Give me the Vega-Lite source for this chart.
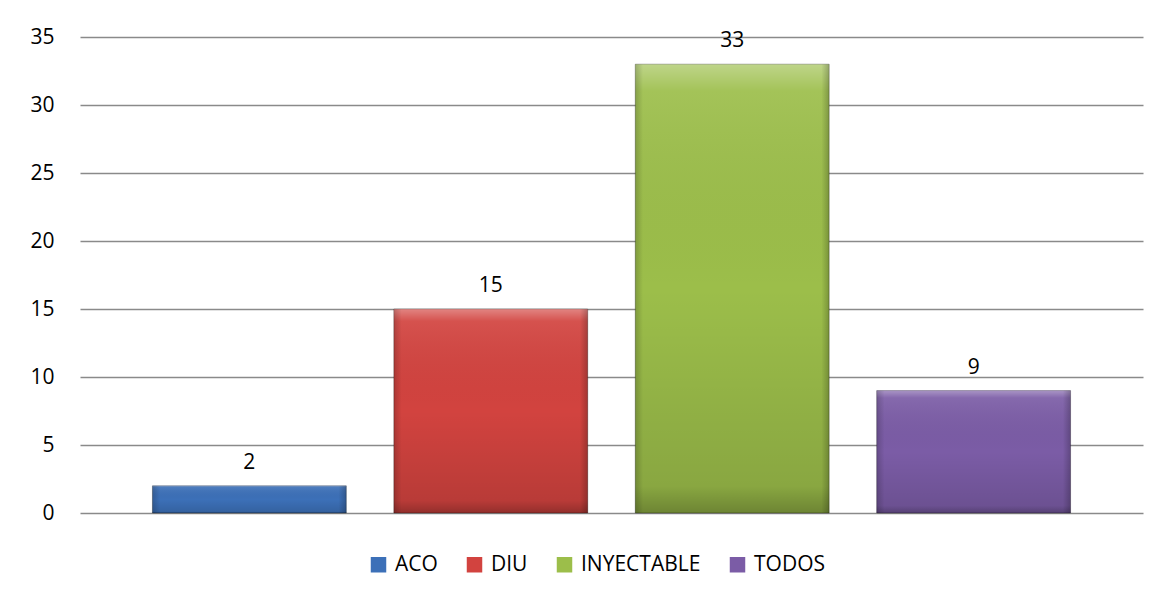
{
  "$schema": "https://vega.github.io/schema/vega-lite/v6.json",
  "autosize": {"type": "none"},
  "padding": {"left": 80, "top": 37, "right": 18, "bottom": 87},
  "width": 1063,
  "height": 476,
  "background": "white",
  "config": {
    "view": {"stroke": null},
    "font": "Open Sans",
    "text": {"font": "Open Sans"}
  },
  "data": {
    "values": [
      {"metodo": "ACO", "valor": 2},
      {"metodo": "DIU", "valor": 15},
      {"metodo": "INYECTABLE", "valor": 33},
      {"metodo": "TODOS", "valor": 9}
    ]
  },
  "encoding": {
    "x": {
      "field": "metodo",
      "type": "nominal",
      "sort": ["ACO", "DIU", "INYECTABLE", "TODOS"],
      "axis": null,
      "scale": {"paddingInner": 0.197, "paddingOuter": 0.3}
    },
    "y": {
      "field": "valor",
      "type": "quantitative",
      "scale": {"domain": [0, 35], "nice": false},
      "axis": {
        "title": null,
        "values": [0, 5, 10, 15, 20, 25, 30, 35],
        "domain": false,
        "ticks": false,
        "labelPadding": 26,
        "labelFont": "Open Sans",
        "labelFontSize": 21,
        "labelColor": "#000000",
        "gridColor": "#8a8a8a",
        "gridWidth": 1.6,
        "gridOpacity": 1
      }
    }
  },
  "layer": [
    {
      "mark": {"type": "bar", "stroke": "rgba(0,0,0,0.3)", "strokeWidth": 1},
      "encoding": {
        "color": {
          "field": "metodo",
          "type": "nominal",
          "sort": ["ACO", "DIU", "INYECTABLE", "TODOS"],
          "scale": {
            "domain": ["ACO", "DIU", "INYECTABLE", "TODOS"],
            "range": ["#3c70b8", "#d2433f", "#9cbe4a", "#7b5ca6"]
          },
          "legend": {
            "title": null,
            "orient": "none",
            "legendX": 288,
            "legendY": 517,
            "direction": "horizontal",
            "symbolType": "square",
            "symbolSize": 240,
            "symbolStrokeWidth": 0,
            "symbolOpacity": 1,
            "labelFont": "Open Sans",
            "labelFontSize": 21,
            "labelColor": "#000000",
            "labelOffset": 6,
            "columnPadding": 26
          }
        }
      }
    },
    {
      "mark": {
        "type": "bar",
        "fill": {
          "gradient": "linear",
          "x1": 0, "y1": 0, "x2": 0, "y2": 1,
          "stops": [
            {"offset": 0, "color": "rgba(255,255,255,0.35)"},
            {"offset": 0.06, "color": "rgba(255,255,255,0.08)"},
            {"offset": 0.5, "color": "rgba(0,0,0,0.0)"},
            {"offset": 0.94, "color": "rgba(0,0,0,0.12)"},
            {"offset": 1, "color": "rgba(0,0,0,0.3)"}
          ]
        }
      },
      "encoding": {}
    },
    {
      "mark": {
        "type": "bar",
        "fill": {
          "gradient": "linear",
          "x1": 0, "y1": 0, "x2": 1, "y2": 0,
          "stops": [
            {"offset": 0, "color": "rgba(0,0,0,0.18)"},
            {"offset": 0.04, "color": "rgba(0,0,0,0.0)"},
            {"offset": 0.96, "color": "rgba(0,0,0,0.0)"},
            {"offset": 1, "color": "rgba(0,0,0,0.22)"}
          ]
        }
      },
      "encoding": {}
    },
    {
      "mark": {
        "type": "text",
        "baseline": "alphabetic",
        "dy": -17,
        "font": "Open Sans",
        "fontSize": 21,
        "color": "#000000"
      },
      "encoding": {
        "text": {"field": "valor", "type": "quantitative"}
      }
    }
  ]
}
